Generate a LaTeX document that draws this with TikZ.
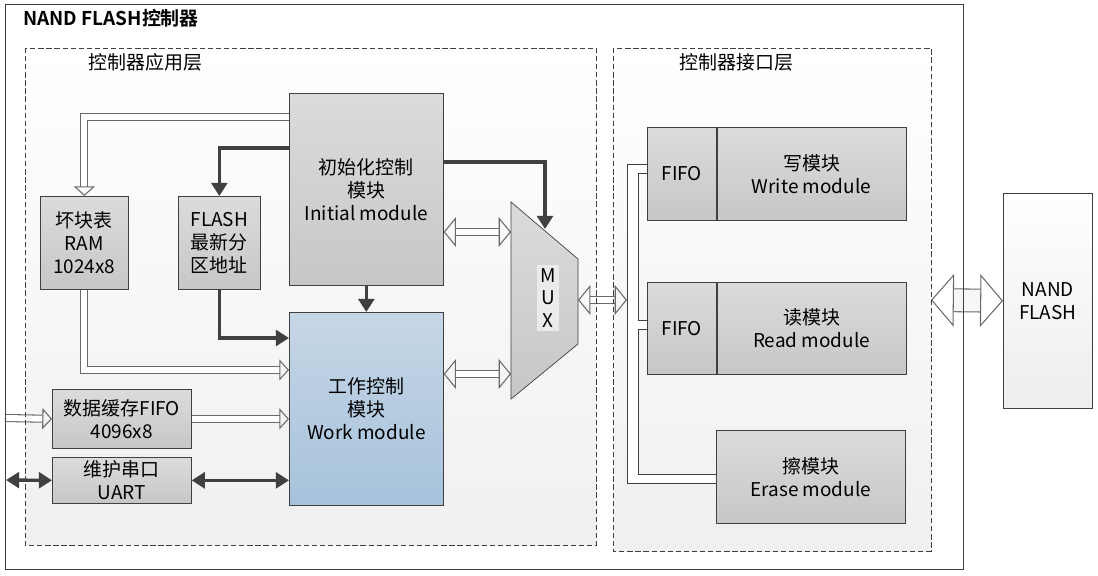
\documentclass[tikz,border=0pt]{standalone}
\usepackage{fontspec}
\setmainfont{Noto Sans CJK SC}[BoldFont={Noto Sans CJK SC Bold}]
\usepackage{xcolor}
\usepackage{tikz}
\usetikzlibrary{arrows.meta}

\definecolor{lineDark}{RGB}{64,64,64}
\definecolor{hollowLine}{RGB}{105,105,105}
\definecolor{workTop}{RGB}{198,214,230}
\definecolor{workBot}{RGB}{166,194,219}

\begin{document}
\begin{tikzpicture}[x=0.02cm, y=-0.02cm, font=\fontsize{10.8}{13}\selectfont]
        \tikzset{box style/.style={draw=lineDark, rectangle, top color=black!14, bottom color=black!22, anchor=north west, align=center, inner sep=1pt}}
        \tikzset{work style/.style={box style, top color=workTop, bottom color=workBot}}
        \tikzset{layer style/.style={draw=lineDark, dash pattern=on 3pt off 1.6pt}}
        \tikzset{line style/.style={draw=lineDark, line width=1.9pt, -{Triangle[length=7.5pt, width=9pt]}}}
        \tikzset{both style/.style={line style, {Triangle[length=7.5pt, width=9pt]}-{Triangle[length=7.5pt, width=9pt]}}}
        \tikzset{hollow style/.style={draw=hollowLine, line width=0.6pt, double=white, double distance=3.4pt, -{Triangle[open, length=5.5pt, width=12pt]}}}
        \tikzset{hollow both/.style={hollow style, {Triangle[open, length=7pt, width=17pt]}-{Triangle[open, length=7pt, width=17pt]}}}
        \tikzset{port style/.style={draw=hollowLine, line width=0.6pt, double=black!3, double distance=12.4pt, {Triangle[open, length=13pt, width=30pt]}-{Triangle[open, length=13pt, width=30pt]}}}

        \useasboundingbox (0,0) rectangle (1098,575);

        % layer backgrounds
        \fill[top color=white, bottom color=black!6] (25,48) rectangle (596,545);
        \fill[top color=white, bottom color=black!6] (613,48) rectangle (931,551);

        \node[anchor=west, font=\fontsize{10.8}{13}\selectfont\bfseries] (title) at (17,18) {NAND FLASH控制器};
        \node[anchor=west] (app label) at (82,62) {控制器应用层};
        \node[anchor=west] (intf label) at (673,62) {控制器接口层};

        % application layer
        \node[box style, minimum width=1.76cm, minimum height=1.86cm] (ram) at (40,196) {坏块表\\RAM\\1024x8};
        \node[box style, minimum width=1.64cm, minimum height=1.86cm] (addr) at (178,196) {FLASH\\最新分\\区地址};
        \node[box style, minimum width=3.08cm, minimum height=3.84cm] (init) at (289,93) {初始化控制\\模块\\Initial module};
        \node[work style, minimum width=3.08cm, minimum height=3.86cm] (work) at (289,312) {工作控制\\模块\\Work module};
        \node[box style, minimum width=2.78cm, minimum height=1.18cm] (buf) at (52,389) {数据缓存FIFO\\4096x8};
        \node[box style, minimum width=2.78cm, minimum height=0.92cm] (uart) at (52,457) {维护串口\\UART};

        \draw[draw=lineDark, top color=black!14, bottom color=black!22] (511,202) -- (578,259) -- (578,344) -- (511,399) -- cycle;
        \node[fill=black!8, inner sep=2pt, align=center] (mux) at (548,298) {M\\U\\X};
        \coordinate (mux top) at (545,229);
        \coordinate (mux in1) at (511,232);
        \coordinate (mux in2) at (511,374);
        \coordinate (mux out) at (578,300);

        % interface layer
        \coordinate (bus) at (627,300);
        \draw[draw=lineDark, fill=white] (627,164) -- (647,164) -- (647,173) -- (638,173) -- (638,320) -- (647,320) -- (647,329) -- (638,329) -- (638,474) -- (716,474) -- (716,483) -- (627,483) -- cycle;

        \node[box style, minimum width=1.38cm, minimum height=1.86cm] (wfifo) at (647,127) {FIFO};
        \node[box style, minimum width=3.78cm, minimum height=1.86cm] (write) at (wfifo.north east) {写模块\\Write module};
        \node[box style, minimum width=1.38cm, minimum height=1.84cm] (rfifo) at (647,282) {FIFO};
        \node[box style, minimum width=3.78cm, minimum height=1.84cm] (read) at (rfifo.north east) {读模块\\Read module};
        \node[box style, minimum width=3.78cm, minimum height=1.86cm] (erase) at (716,430) {擦模块\\Erase module};

        \node[box style, top color=white, bottom color=black!7, minimum width=1.78cm, minimum height=4.3cm] (nand) at (1003,193) {NAND\\FLASH};

        % connectors
        \coordinate (ext buf) at (5,418);
        \coordinate (ext uart) at (6,480);
        \coordinate (intf port) at (931,300);

        \draw[hollow style] (init.west |- 0,117) -| (ram.north);
        \draw[hollow style] (ram.south) |- (work.west |- 0,370);
        \draw[line style] (init.west |- 0,148) -| (addr.north);
        \draw[line style] (addr.south) |- (work.west |- 0,338);
        \draw[line style] (init.south) -- (work.north);
        \draw[line style] (init.east |- 0,162) -| (mux top);
        \draw[hollow both] (init.east |- mux in1) -- (mux in1);
        \draw[hollow both] (work.east |- mux in2) -- (mux in2);
        \draw[hollow both] (mux out) -- (bus);
        \draw[hollow style] (ext buf) -- (buf.west);
        \draw[hollow style] (buf.east) -- (work.west |- buf.east);
        \draw[both style] (ext uart) -- (uart.west);
        \draw[both style] (uart.east) -- (work.west |- uart.east);
        \draw[port style] (intf port) -- (nand.west);

        % borders
        \draw[layer style] (25,48) rectangle (596,545);
        \draw[layer style] (613,48) rectangle (931,551);
        \draw[draw=lineDark] (5,4) rectangle (963,569);
    \end{tikzpicture}
\end{document}
